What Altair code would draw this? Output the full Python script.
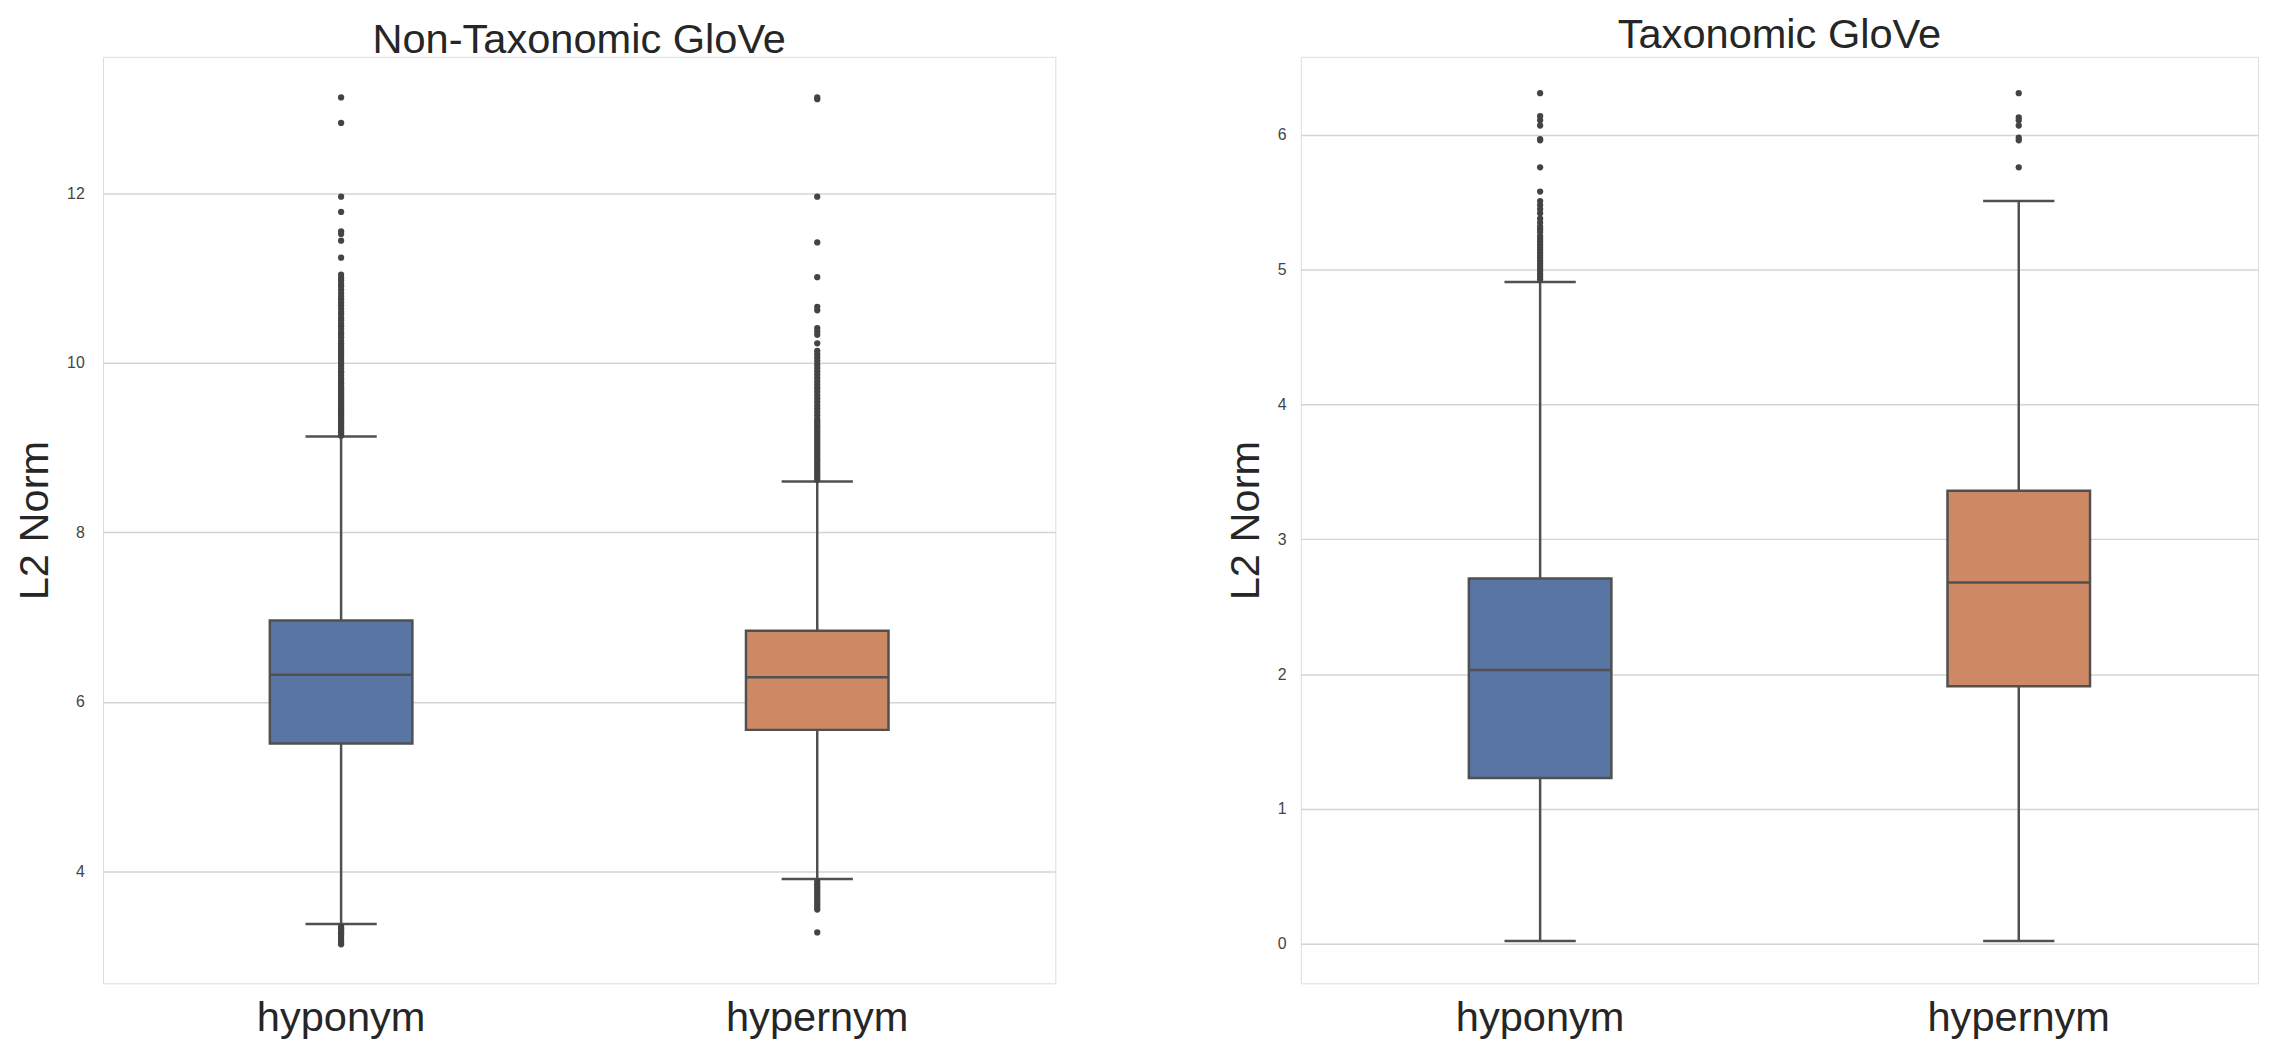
import altair as alt
import pandas as pd

FONT = "Liberation Sans"
LINE = "#505050"
OUT = "#444444"
TEXT = "#262626"

categories = ["hyponym", "hypernym"]
panel_titles = ["Non-Taxonomic GloVe", "Taxonomic GloVe"]
box_colors = ["#5975A4", "#CC8963"]

# ---- Non-Taxonomic GloVe ----
nt_q1 = [5.51, 5.67]
nt_median = [6.32, 6.29]
nt_q3 = [6.96, 6.84]
nt_low = [3.38, 3.91]
nt_high = [9.13, 8.60]
nt_out_hypo = [13.13, 12.83, 11.96, 11.78, 11.55, 11.52, 11.44, 11.24,
               11.04, 11.00, 10.97, 10.93, 10.90, 10.86, 10.82, 10.78, 10.75, 10.71,
               10.68, 10.64, 10.60, 10.57, 10.53, 10.50, 10.46, 10.43, 10.40, 10.36,
               10.33, 10.30, 10.26, 10.23, 10.20, 10.17, 10.14, 10.11, 10.08, 10.05,
               10.02, 9.99, 9.96, 9.93, 9.90, 9.88, 9.85, 9.82, 9.80, 9.77, 9.75,
               9.72, 9.70, 9.68, 9.66, 9.64, 9.62, 9.60, 9.58, 9.56, 9.54, 9.52,
               9.50, 9.48, 9.46, 9.44, 9.42, 9.40, 9.38, 9.36, 9.34, 9.32, 9.30,
               9.28, 9.26, 9.24, 9.22, 9.20, 9.18, 9.16, 9.14,
               3.35, 3.33, 3.31, 3.29, 3.27, 3.25, 3.22, 3.19, 3.16, 3.14]
nt_out_hyper = [13.13, 13.11, 11.96, 11.42, 11.01, 10.66, 10.62, 10.41, 10.37,
                10.33, 10.23, 10.14, 10.10, 10.06, 10.02, 9.98, 9.94, 9.90, 9.86,
                9.82, 9.78, 9.74, 9.70, 9.66, 9.62, 9.58, 9.54, 9.50, 9.46, 9.42,
                9.38, 9.34, 9.31, 9.28, 9.25, 9.22, 9.19, 9.16, 9.13, 9.10, 9.07,
                9.04, 9.01, 8.98, 8.95, 8.92, 8.89, 8.86, 8.83, 8.80, 8.77, 8.74,
                8.71, 8.68, 8.65, 8.62,
                3.88, 3.85, 3.82, 3.79, 3.76, 3.73, 3.70, 3.67, 3.64, 3.61, 3.58,
                3.55, 3.28]
nt_ticks = [4, 6, 8, 10, 12]
nt_domain = [2.68, 13.61]

# ---- Taxonomic GloVe ----
t_q1 = [1.23, 1.91]
t_median = [2.03, 2.68]
t_q3 = [2.71, 3.36]
t_low = [0.02, 0.02]
t_high = [4.91, 5.51]
t_out_hypo = [6.31, 6.14, 6.11, 6.07, 5.97, 5.96, 5.76, 5.58, 5.51, 5.48, 5.45,
              5.42, 5.38, 5.35, 5.32, 5.30, 5.28, 5.25, 5.23, 5.21, 5.19, 5.17,
              5.15, 5.13, 5.11, 5.09, 5.07, 5.05, 5.03, 5.01, 4.99, 4.97, 4.95, 4.93]
t_out_hyper = [6.31, 6.13, 6.11, 6.07, 5.98, 5.96, 5.76]
t_ticks = [0, 1, 2, 3, 4, 5, 6]
t_domain = [-0.294, 6.58]


def panel(title, q1, med, q3, lo, hi, out_hypo, out_hyper, ticks, domain,
          width, height, title_offset, title_dy, label_pad):
    stats = pd.DataFrame({"cat": categories, "q1": q1, "med": med, "q3": q3,
                          "lo": lo, "hi": hi})
    outl = pd.DataFrame({
        "cat": ["hyponym"] * len(out_hypo) + ["hypernym"] * len(out_hyper),
        "v": out_hypo + out_hyper,
    })
    xenc = alt.X("cat:N", sort=categories,
                 scale=alt.Scale(paddingInner=0, paddingOuter=0),
                 axis=alt.Axis(title=None, labelAngle=0, labelFontSize=42,
                               labelFont=FONT, labelColor=TEXT, labelPadding=15,
                               labelLimit=0,
                               ticks=False, domain=False, grid=False))
    yscale = alt.Scale(domain=domain, nice=False, zero=False)
    yaxis = alt.Axis(title="L2 Norm", values=ticks, titleFontSize=42,
                     titleFont=FONT, titleFontWeight="normal", titleColor=TEXT,
                     titlePadding=10, labelFontSize=16, labelFont=FONT,
                     labelColor="#444444", labelPadding=label_pad, ticks=False,
                     domain=False, grid=True, gridColor="#d4d4d4", gridWidth=1.5)

    def Y(f):
        return alt.Y(f, scale=yscale, axis=yaxis)

    base = alt.Chart(stats)
    whisk_lo = base.mark_rule(color=LINE, strokeWidth=2.5).encode(
        x=xenc, y=Y("lo:Q"), y2="q1:Q")
    whisk_hi = base.mark_rule(color=LINE, strokeWidth=2.5).encode(
        x=xenc, y=Y("q3:Q"), y2="hi:Q")
    box = base.mark_bar(size=144, stroke=LINE, strokeWidth=2.5).encode(
        x=xenc, y=Y("q1:Q"), y2="q3:Q",
        color=alt.Color("cat:N", scale=alt.Scale(domain=categories, range=box_colors),
                        legend=None))
    median = base.mark_tick(size=144, thickness=2.5, color=LINE, opacity=1).encode(
        x=xenc, y=Y("med:Q"))
    cap_lo = base.mark_tick(size=72, thickness=2.5, color=LINE, opacity=1).encode(
        x=xenc, y=Y("lo:Q"))
    cap_hi = base.mark_tick(size=72, thickness=2.5, color=LINE, opacity=1).encode(
        x=xenc, y=Y("hi:Q"))
    pts = alt.Chart(outl).mark_circle(size=40, color=OUT, opacity=1).encode(
        x=xenc, y=Y("v:Q"))
    return alt.layer(whisk_lo, whisk_hi, box, median, cap_lo, cap_hi, pts).properties(
        width=width, height=height,
        title=alt.TitleParams(title, fontSize=42, font=FONT, fontWeight="normal",
                              color=TEXT, anchor="middle", frame="group",
                              offset=title_offset, dy=title_dy))


left = panel(panel_titles[0], nt_q1, nt_median, nt_q3, nt_low, nt_high,
             nt_out_hypo, nt_out_hyper, nt_ticks, nt_domain, 962, 936, -9, -4, 19)
right = panel(panel_titles[1], t_q1, t_median, t_q3, t_low, t_high,
              t_out_hypo, t_out_hyper, t_ticks, t_domain, 967, 936, -9, -9, 15)

chart = alt.hconcat(left, right, spacing=169).resolve_scale(
    y="independent", x="independent", color="independent"
).properties(
    padding={"left": 5, "top": 0, "right": 5, "bottom": 0}
).configure_view(stroke="#cccccc", strokeWidth=1.5).configure(background="white")

chart.save("out.html", embed_options={"renderer": "svg", "actions": False})
